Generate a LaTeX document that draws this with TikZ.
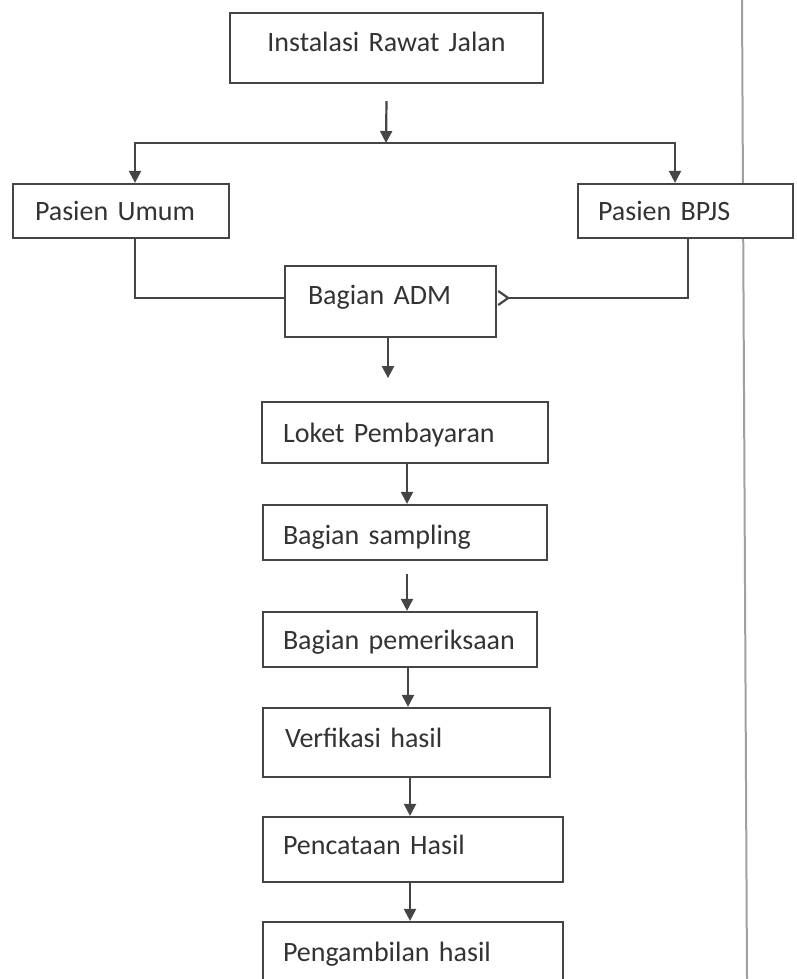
\documentclass[tikz,border=0pt]{standalone}
\usepackage{fontspec}
\setmainfont{Carlito}
\usetikzlibrary{arrows.meta}

\definecolor{linecol}{HTML}{454545}
\definecolor{textcol}{HTML}{333333}
\definecolor{rulecol}{HTML}{A0A0A0}

\tikzset{
  box/.style={draw=linecol, line width=2.2pt, fill=white, rectangle,
    inner ysep=0pt, inner xsep=20pt, text height=25pt, text depth=6pt,
    align=left, text=textcol, font=\fontsize{28}{30}\selectfont},
  link/.style={draw=linecol, line width=2.2pt},
  arr/.style={link, -{Triangle[length=12pt,width=12pt]}},
  backarr/.style={link, -{Straight Barb[reversed,length=10pt,width=14pt,line width=2.2pt]}},
  sideline/.style={draw=rulecol, line width=2pt}
}

\begin{document}
\begin{tikzpicture}[x=1pt,y=-1pt]
  \useasboundingbox (0,0) rectangle (797,979);
  \clip (0,0) rectangle (797,979);

  % margin rule on the right
  \coordinate (ruletop) at (742,0);
  \coordinate (rulebot) at (747,979);
  \draw[sideline] (ruletop) -- (rulebot);

  % boxes
  \node[box, align=center, text width=273pt, minimum height=70pt, text depth=18pt]
    (irj) at (386.5,48) {Instalasi Rawat Jalan};
  \node[box, inner xsep=22pt, text width=172pt, minimum height=54pt]
    (umum) at (121,211) {Pasien Umum};
  \node[box, text width=175pt, minimum height=54pt]
    (bpjs) at (685.5,211) {Pasien BPJS};
  \node[box, inner xsep=23pt, text width=165pt, minimum height=71pt, text depth=19pt]
    (adm) at (390.5,301.5) {Bagian ADM};
  \node[box, inner xsep=21pt, text width=244pt, minimum height=61pt]
    (loket) at (405,432.5) {Loket Pembayaran};
  \node[box, text width=244pt, minimum height=55pt, text height=29pt]
    (sampling) at (405,532.5) {Bagian sampling};
  \node[box, text width=234pt, minimum height=55pt]
    (periksa) at (400,639.5) {Bagian pemeriksaan};
  \node[box, inner xsep=22pt, text width=243pt, minimum height=69pt, text depth=15pt]
    (verif) at (406.5,742.5) {Verfikasi hasil};
  \node[box, text width=260pt, minimum height=65pt, text depth=15pt]
    (catat) at (413,849.5) {Pencataan Hasil};
  \node[box, text width=260pt, minimum height=68pt, text depth=14pt]
    (ambil) at (413,956) {Pengambilan hasil};

  % branching from the outpatient unit
  \coordinate (split) at (386,143);
  \draw[arr] ([yshift=-17pt]irj.south) -- (split);
  \draw[arr] (split) -| ([xshift=14pt]umum.north);
  \draw[arr] (split) -| ([xshift=-10.5pt]bpjs.north);

  % both patient groups join at administration
  \draw[link] ([xshift=14pt]umum.south) |- ([yshift=3.5pt]adm.west);
  \draw[backarr] ([xshift=2.5pt]bpjs.south) |- ([yshift=3.5pt]adm.east);

  % main sequence
  \draw[arr] ([xshift=-2.5pt]adm.south) -- ++(0,40);
  \draw[arr] ([xshift=2pt]loket.south) -- ([xshift=2pt]sampling.north);
  \draw[arr] ([xshift=2pt,yshift=-13pt]sampling.south) -- ([xshift=7pt]periksa.north);
  \draw[arr] ([xshift=8pt]periksa.south) -- ([xshift=1.5pt]verif.north);
  \draw[arr] ([xshift=3.5pt]verif.south) -- ([xshift=-3pt]catat.north);
  \draw[arr] ([xshift=-3pt]catat.south) -- ([xshift=-3pt]ambil.north);
\end{tikzpicture}
\end{document}
